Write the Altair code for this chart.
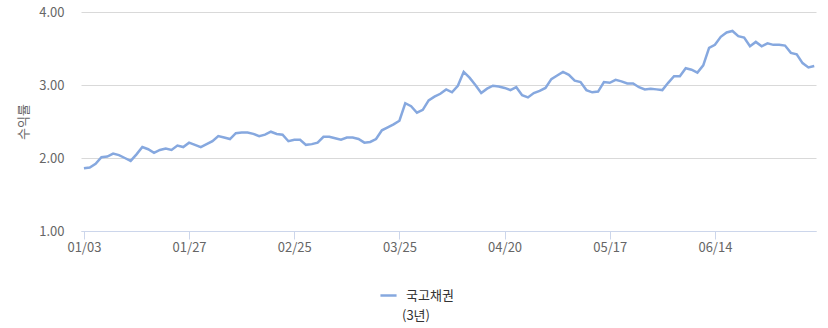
import json
import altair as alt
import pandas as pd

# 국고채권 (3년) yields, one value per trading day
yields = [
    1.86, 1.87, 1.92, 2.01, 2.02, 2.06, 2.04, 2.00, 1.96, 2.05,
    2.15, 2.12, 2.07, 2.11, 2.13, 2.11, 2.17, 2.15, 2.21, 2.18,
    2.15, 2.19, 2.23, 2.30, 2.28, 2.26, 2.34, 2.35, 2.35, 2.33,
    2.30, 2.32, 2.36, 2.33, 2.32, 2.23, 2.25, 2.25, 2.18, 2.19,
    2.21, 2.29, 2.29, 2.27, 2.25, 2.28, 2.28, 2.26, 2.21, 2.22,
    2.26, 2.38, 2.42, 2.46, 2.51, 2.75, 2.71, 2.62, 2.66, 2.79,
    2.84, 2.88, 2.94, 2.90, 2.99, 3.18, 3.10, 3.00, 2.89, 2.95,
    2.99, 2.98, 2.96, 2.93, 2.97, 2.86, 2.83, 2.89, 2.92, 2.96,
    3.08, 3.13, 3.18, 3.14, 3.06, 3.04, 2.93, 2.90, 2.91, 3.04,
    3.03, 3.07, 3.05, 3.02, 3.02, 2.97, 2.94, 2.95, 2.94, 2.93,
    3.03, 3.12, 3.12, 3.23, 3.21, 3.17, 3.27, 3.51, 3.55, 3.66,
    3.72, 3.74, 3.67, 3.65, 3.53, 3.59, 3.53, 3.57, 3.55, 3.55,
    3.54, 3.44, 3.42, 3.30, 3.24, 3.26,
]
tick_positions = [0, 18, 36, 54, 72, 90, 108]
tick_labels = ["01/03", "01/27", "02/25", "03/25", "04/20", "05/17", "06/14"]
y_ticks = [1, 2, 3, 4]
series_name = "국고채권"
series_term = "(3년)"

df = pd.DataFrame({
    "idx": list(range(len(yields))),
    "value": yields,
    "series": [series_name] * len(yields),
})

FONT = "Noto Sans CJK KR"
TEXT = "#666666"
LINE = "#86a8df"

label_expr = json.dumps(tick_labels) + "[round(datum.value / 18)]"

chart = alt.Chart(df).mark_line(strokeWidth=2.5, color=LINE).encode(
    x=alt.X(
        "idx:Q",
        scale=alt.Scale(domain=[-0.5, 125.3], nice=False, zero=False),
        axis=alt.Axis(
            values=tick_positions,
            labelExpr=label_expr,
            title=None,
            grid=False,
            domainColor="#ccd6eb",
            tickColor="#ccd6eb",
            tickSize=8,
            labelPadding=2,
            labelColor=TEXT,
            labelFont=FONT,
            labelFontSize=13,
        ),
    ),
    y=alt.Y(
        "value:Q",
        scale=alt.Scale(domain=[1, 4], nice=False, zero=False),
        axis=alt.Axis(
            values=y_ticks,
            format=".2f",
            title="수익률",
            titleFont=FONT,
            titleFontSize=13,
            titleFontWeight="normal",
            titleColor=TEXT,
            titlePadding=8,
            domain=False,
            ticks=False,
            grid=True,
            gridColor="#d9d9d9",
            labelPadding=17,
            labelColor=TEXT,
            labelFont=FONT,
            labelFontSize=13,
        ),
    ),
    stroke=alt.Stroke(
        "series:N",
        scale=alt.Scale(range=[LINE]),
        legend=alt.Legend(
            title=series_term,
            titleOrient="bottom",
            titleAnchor="middle",
            titleFont=FONT,
            titleFontSize=13,
            titleFontWeight="normal",
            titleColor="#333333",
            titlePadding=7,
            orient="none",
            legendX=298,
            legendY=274,
            symbolType="stroke",
            symbolStrokeWidth=2.5,
            symbolSize=260,
            labelFont=FONT,
            labelFontSize=13,
            labelColor="#333333",
            labelOffset=8,
        ),
    ),
).properties(
    width=735,
    height=219,
    background="white",
    autosize=alt.AutoSizeParams(type="none"),
    padding={"left": 81, "top": 12, "right": 12, "bottom": 97},
).configure_view(stroke=None)

chart.save("out.html", embed_options={"renderer": "svg", "actions": False})
